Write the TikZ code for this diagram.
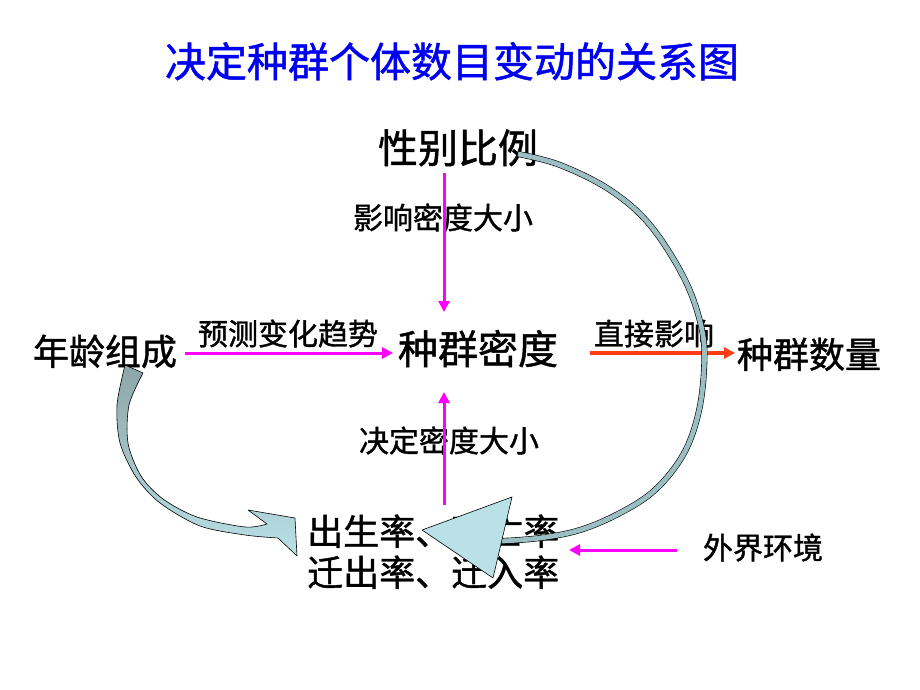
\documentclass[tikz,border=0pt]{standalone}
\usepackage{fontspec}
\setmainfont{Noto Sans CJK SC}[FakeBold=1.2]
\usetikzlibrary{arrows.meta}
\definecolor{mag}{RGB}{255,0,255}
\definecolor{redo}{RGB}{255,60,20}
\definecolor{tblue}{RGB}{0,0,240}
\definecolor{arcgray}{RGB}{140,165,168}
\definecolor{arccyan}{RGB}{185,225,230}
\definecolor{arcmid}{RGB}{155,190,195}
\begin{document}
\begin{tikzpicture}[x=1pt,y=-1pt,
  lbl/.style={anchor=base,inner sep=0pt,font=\fontsize{30}{36}\selectfont},
  big/.style={anchor=base,inner sep=0pt,font=\fontsize{40}{48}\selectfont},
  mid/.style={anchor=base,inner sep=0pt,font=\fontsize{36}{43}\selectfont},
  ttl/.style={anchor=base,inner sep=0pt,text=tblue,font=\fontsize{41}{49}\selectfont},
  marr/.style={draw=mag,line width=3pt,-{Triangle[length=11pt,width=11pt]}},
  rarr/.style={draw=redo,line width=3.5pt,-{Triangle[length=11pt,width=11pt]}},
  curv/.style={draw=black,line width=0.6pt,line join=round}]
\path[fill=white] (0,0) rectangle (920,690);

% texts
\node[ttl] (title) at (452,77) {决定种群个体数目变动的关系图};
\node[big] (sex) at (458,163) {性别比例};
\node[big] (dens) at (478,364) {种群密度};
\node[mid] (age) at (105,365) {年龄组成};
\node[mid] (num) at (809,368) {种群数量};
\node[mid,anchor=base west] (rate1) at (307,545) {出生率、死亡率};
\node[mid,anchor=base west] (rate2) at (307,586) {迁出率、迁入率};
\node[lbl] (env) at (763,559) {外界环境};
\node[lbl] (l1) at (443,229) {影响密度大小};
\node[lbl] (l2) at (288,345) {预测变化趋势};
\node[lbl] (l3) at (654,345) {直接影响};
\node[lbl] (l4) at (449,452) {决定密度大小};

% connector end points
\coordinate (s1) at (444,173);  \coordinate (e1) at (444,312);
\coordinate (s2) at (185,353);  \coordinate (e2) at (393,353);
\coordinate (s3) at (590,353);  \coordinate (e3) at (735,353);
\coordinate (s4) at (444,505);  \coordinate (e4) at (444,392);
\coordinate (s5) at (677,550);  \coordinate (e5) at (569,550);

\draw[marr] (s1) -- (e1);
\draw[marr] (s2) -- (e2);
\draw[rarr] (s3) -- (e3);
\draw[marr] (s4) -- (e4);
\draw[marr] (s5) -- (e5);

% big curved arrow from sex ratio
\def\rcurve{plot[smooth,tension=0.6] coordinates {(518,154) (560,165) (610,190) (650,225) (685,280) (702,330) (704,370) (698,415) (683,455) (655,490) (620,513) (580,530) (540,538) (502,541)}}
\draw[line width=6pt,black] \rcurve;
\draw[line width=4.8pt,arcmid] \rcurve;
\filldraw[curv,fill=arccyan] (422,530) -- (512,497) -- (493,578) -- cycle;

% curved arrow from age structure
\path[curv,top color=arcgray,bottom color=arccyan]
  plot[smooth] coordinates {(125,365) (117,405) (120,443) (136,477) (160,503) (200,526) (245,535) (278,538)}
  -- (297,556) -- (295,518) -- (248,510)
  -- plot[smooth] coordinates {(267,524) (245,527) (197,517) (163,499) (141,476) (128,443) (129,405) (143,373)}
  -- cycle;
\end{tikzpicture}
\end{document}
